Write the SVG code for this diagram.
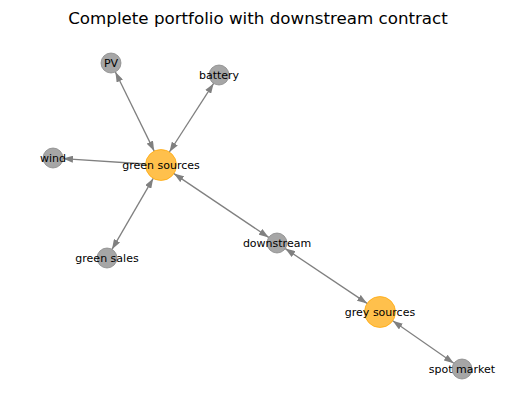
<svg xmlns="http://www.w3.org/2000/svg" width="515" height="411" viewBox="0 0 515 411">
<style>
.edge{stroke:#808080;stroke-width:1.3;fill:none}
.g{fill:#808080;fill-opacity:0.7;stroke:#808080;stroke-opacity:0.7;stroke-width:1}
.o{fill:#ffa500;fill-opacity:0.7;stroke:#ffa500;stroke-opacity:0.7;stroke-width:1}
.lbl{font-family:"DejaVu Sans",sans-serif;font-size:11px;fill:#000;text-anchor:middle;dominant-baseline:central}
.title{font-family:"DejaVu Sans",sans-serif;font-size:16.7px;fill:#000;text-anchor:middle}
</style>
<defs>
<marker id="ah" markerUnits="userSpaceOnUse" markerWidth="10" markerHeight="7" refX="10" refY="3.5" orient="auto-start-reverse" viewBox="0 0 10 7">
<path d="M0,0 L10,3.5 L0,7 z" fill="#808080"/>
</marker>
</defs>
<rect width="515" height="411" fill="#fff"/>
<text class="title" x="258" y="24">Complete portfolio with downstream contract</text>
<g id="connectors">
<line class="edge" x1="154.2" y1="151.1" x2="115.4" y2="72.0" marker-start="url(#ah)" marker-end="url(#ah)"/>
<line class="edge" x1="169.4" y1="152.0" x2="213.6" y2="83.4" marker-start="url(#ah)" marker-end="url(#ah)"/>
<line class="edge" x1="145.5" y1="164.0" x2="63.0" y2="158.6" marker-end="url(#ah)"/>
<line class="edge" x1="153.2" y1="178.4" x2="112.0" y2="249.3" marker-start="url(#ah)" marker-end="url(#ah)"/>
<line class="edge" x1="173.9" y1="173.6" x2="268.7" y2="237.4" marker-start="url(#ah)" marker-end="url(#ah)"/>
<line class="edge" x1="285.3" y1="248.6" x2="367.1" y2="303.4" marker-start="url(#ah)" marker-end="url(#ah)"/>
<line class="edge" x1="392.7" y1="320.8" x2="453.8" y2="363.3" marker-start="url(#ah)" marker-end="url(#ah)"/>
</g>
<g id="node-PV"><circle class="g" cx="111" cy="63" r="10"/><text class="lbl" x="111" y="63">PV</text></g>
<g id="node-battery"><circle class="g" cx="219" cy="75" r="10"/><text class="lbl" x="219" y="75">battery</text></g>
<g id="node-wind"><circle class="g" cx="53" cy="158" r="10"/><text class="lbl" x="53" y="158">wind</text></g>
<g id="node-green-sources"><circle class="o" cx="161" cy="165" r="15.5"/><text class="lbl" x="161" y="165">green sources</text></g>
<g id="node-green-sales"><circle class="g" cx="107" cy="258" r="10"/><text class="lbl" x="107" y="258">green sales</text></g>
<g id="node-downstream"><circle class="g" cx="277" cy="243" r="10"/><text class="lbl" x="277" y="243">downstream</text></g>
<g id="node-grey-sources"><circle class="o" cx="380" cy="312" r="15.5"/><text class="lbl" x="380" y="312">grey sources</text></g>
<g id="node-spot-market"><circle class="g" cx="462" cy="369" r="10"/><text class="lbl" x="462" y="369">spot market</text></g>
</svg>
